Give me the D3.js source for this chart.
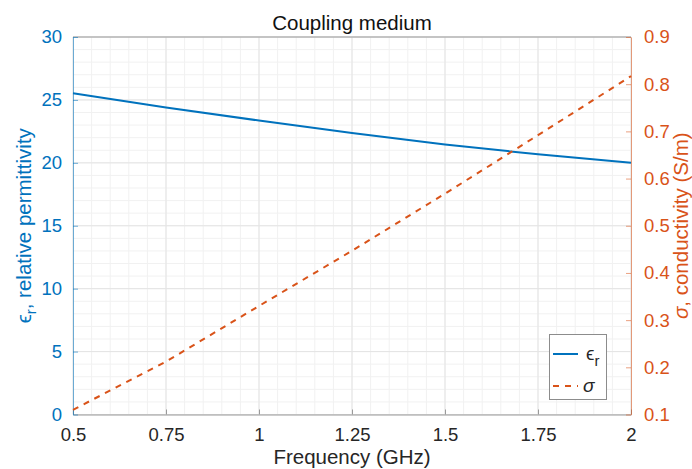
<!DOCTYPE html>
<html>
<head>
<meta charset="utf-8">
<script src="https://cdn.jsdelivr.net/npm/d3@7"></script>
<style>
  html, body { margin: 0; padding: 0; background: #fff; }
  svg { display: block; font-family: "Liberation Sans", Arial, Helvetica, sans-serif; }
</style>
</head>
<body>
<svg id="chart" width="692" height="469"></svg>
<script>
// Frequency sweep (GHz) and measured coupling-medium properties
const frequency = [0.5, 0.75, 1.0, 1.25, 1.5, 1.75, 2.0];
const permittivity = [25.53, 24.40, 23.36, 22.38, 21.45, 20.68, 20.00];
const conductivity = [0.110, 0.212, 0.330, 0.447, 0.568, 0.692, 0.817];

const xTicks = [0.5, 0.75, 1, 1.25, 1.5, 1.75, 2];
const xTickLabels = ["0.5", "0.75", "1", "1.25", "1.5", "1.75", "2"];
const leftTicks = [0, 5, 10, 15, 20, 25, 30];
const rightTicks = [0.1, 0.2, 0.3, 0.4, 0.5, 0.6, 0.7, 0.8, 0.9];

const blue = "#0072BD";
const orange = "#D95319";
const gray = "#262626";

const svg = d3.select("#chart");
const m = { left: 73, right: 631, top: 37, bottom: 414.5 };

const x = d3.scaleLinear().domain([0.5, 2]).range([m.left, m.right]);
const yL = d3.scaleLinear().domain([0, 30]).range([m.bottom, m.top]);
const yR = d3.scaleLinear().domain([0.1, 0.9]).range([m.bottom, m.top]);

// Minor grid
const g = svg.append("g");
d3.range(0.5, 2.0001, 0.05).forEach(v => {
  g.append("line").attr("x1", x(v)).attr("x2", x(v)).attr("y1", m.top).attr("y2", m.bottom)
    .attr("stroke", "#f1f1f1").attr("stroke-width", 1);
});
d3.range(0, 30.001, 1).forEach(v => {
  g.append("line").attr("x1", m.left).attr("x2", m.right).attr("y1", yL(v)).attr("y2", yL(v))
    .attr("stroke", "#f1f1f1").attr("stroke-width", 1);
});
// Major grid
xTicks.forEach(v => {
  g.append("line").attr("x1", x(v)).attr("x2", x(v)).attr("y1", m.top).attr("y2", m.bottom)
    .attr("stroke", "#e4e4e4").attr("stroke-width", 1);
});
leftTicks.forEach(v => {
  g.append("line").attr("x1", m.left).attr("x2", m.right).attr("y1", yL(v)).attr("y2", yL(v))
    .attr("stroke", "#e4e4e4").attr("stroke-width", 1);
});

// Box: top edge
svg.append("line").attr("x1", m.left).attr("x2", m.right).attr("y1", m.top).attr("y2", m.top)
  .attr("stroke", "#9a9a9a").attr("stroke-width", 1);

// Bottom axis
const xAxis = d3.axisBottom(x).tickValues(xTicks).tickFormat((d, i) => xTickLabels[i])
  .tickSizeInner(-5).tickSizeOuter(0).tickPadding(13);
const gx = svg.append("g").attr("transform", `translate(0,${m.bottom})`).call(xAxis);
gx.select(".domain").attr("stroke", "#9a9a9a");
gx.selectAll(".tick line").attr("stroke", "#9a9a9a");
gx.selectAll(".tick text").attr("fill", gray).attr("font-size", 18.5).attr("font-family", null);

// Left axis
const yAxisL = d3.axisLeft(yL).tickValues(leftTicks).tickFormat(d3.format("d"))
  .tickSizeInner(-5).tickSizeOuter(0).tickPadding(11);
const gl = svg.append("g").attr("transform", `translate(${m.left},0)`).call(yAxisL);
gl.select(".domain").attr("stroke", blue).attr("stroke-opacity", 0.55);
gl.selectAll(".tick line").attr("stroke", blue).attr("stroke-opacity", 0.55);
gl.selectAll(".tick text").attr("fill", blue).attr("font-size", 18.5).attr("font-family", null);

// Right axis
const yAxisR = d3.axisRight(yR).tickValues(rightTicks).tickFormat(d3.format(".1f"))
  .tickSizeInner(-5).tickSizeOuter(0).tickPadding(13);
const gr = svg.append("g").attr("transform", `translate(${m.right},0)`).call(yAxisR);
gr.select(".domain").attr("stroke", orange).attr("stroke-opacity", 0.55);
gr.selectAll(".tick line").attr("stroke", orange).attr("stroke-opacity", 0.55);
gr.selectAll(".tick text").attr("fill", orange).attr("font-size", 18.5).attr("font-family", null);

// Series
svg.append("path").datum(frequency.map((f, i) => [f, permittivity[i]]))
  .attr("fill", "none").attr("stroke", blue).attr("stroke-width", 2)
  .attr("d", d3.line().x(d => x(d[0])).y(d => yL(d[1])));
svg.append("path").datum(frequency.map((f, i) => [f, conductivity[i]]))
  .attr("fill", "none").attr("stroke", orange).attr("stroke-width", 2)
  .attr("stroke-dasharray", "6,6")
  .attr("d", d3.line().x(d => x(d[0])).y(d => yR(d[1])));

// Title and labels
svg.append("text").attr("x", (m.left + m.right) / 2).attr("y", 30)
  .attr("text-anchor", "middle").attr("font-size", 20.5).attr("fill", "#111")
  .text("Coupling medium");
svg.append("text").attr("x", (m.left + m.right) / 2).attr("y", 464)
  .attr("text-anchor", "middle").attr("font-size", 20.5).attr("fill", gray)
  .text("Frequency (GHz)");

const ylab = svg.append("text")
  .attr("transform", `translate(31,${(m.top + m.bottom) / 2}) rotate(-90)`)
  .attr("text-anchor", "middle").attr("font-size", 20.5).attr("fill", blue);
ylab.append("tspan").text("\u03F5");
ylab.append("tspan").attr("font-size", 15).attr("dy", 5).text("r");
ylab.append("tspan").attr("dy", -5).text(", relative permittivity");

const rlab = svg.append("text")
  .attr("transform", `translate(688,${(m.top + m.bottom) / 2}) rotate(-90)`)
  .attr("text-anchor", "middle").attr("font-size", 20.5).attr("fill", orange);
rlab.append("tspan").attr("font-style", "italic").text("\u03C3");
rlab.append("tspan").text(", conductivity (S/m)");

// Legend
const lg = svg.append("g");
lg.append("rect").attr("x", 549.5).attr("y", 334.5).attr("width", 57).attr("height", 65)
  .attr("fill", "#fff").attr("stroke", "#8c8c8c").attr("stroke-width", 1);
lg.append("line").attr("x1", 553).attr("x2", 578).attr("y1", 354).attr("y2", 354)
  .attr("stroke", blue).attr("stroke-width", 2);
lg.append("line").attr("x1", 553).attr("x2", 578).attr("y1", 386).attr("y2", 386)
  .attr("stroke", orange).attr("stroke-width", 2).attr("stroke-dasharray", "6,6");
const le = lg.append("text").attr("x", 586).attr("y", 360).attr("font-size", 19).attr("fill", gray);
le.append("tspan").text("\u03F5");
le.append("tspan").attr("font-size", 15).attr("dy", 6).text("r");
lg.append("text").attr("x", 583).attr("y", 392).attr("font-size", 19).attr("fill", gray)
  .attr("font-style", "italic").text("\u03C3");
</script>
</body>
</html>
